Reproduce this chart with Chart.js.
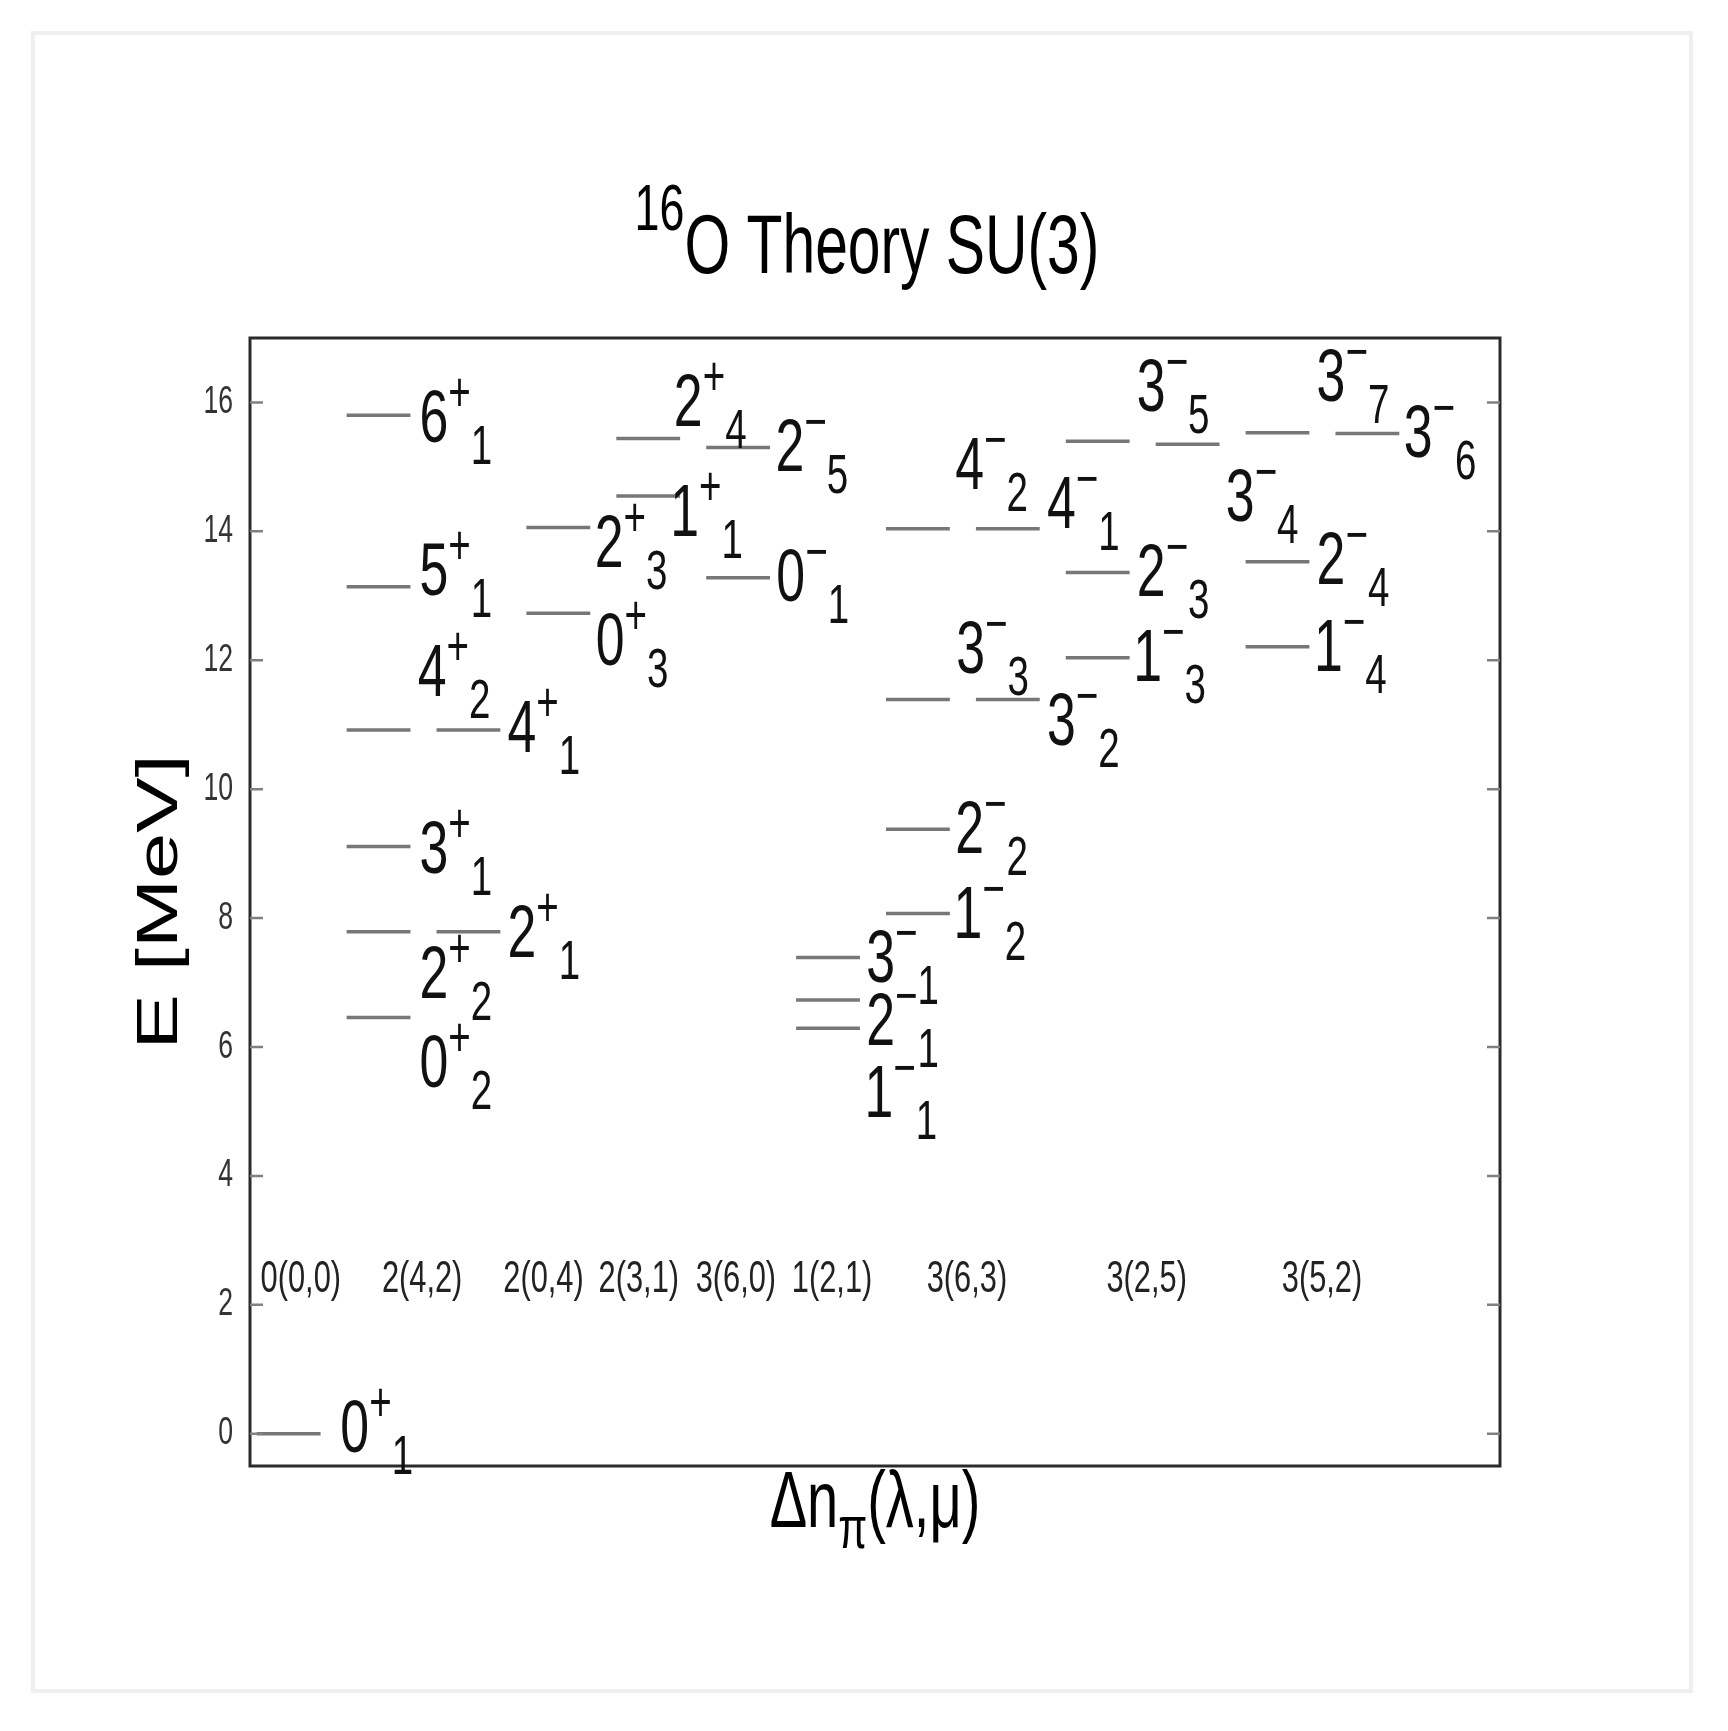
<!DOCTYPE html>
<html>
<head>
<meta charset="utf-8">
<title>16O Theory SU(3)</title>
<script src="https://cdn.jsdelivr.net/npm/chart.js"></script>
<style>
    html, body { margin: 0; padding: 0; background: #fff; overflow: hidden; }
    .card { position: absolute; left: 31px; top: 31px; width: 1654px; height: 1654px; border: 4px solid #efefef; }
    #levels { position: absolute; left: 0; top: 0; }
</style>
</head>
<body>
<div class="card"></div>
<canvas id="levels" width="1728" height="1731"></canvas>
<script>

// SU(3) irreps, Δn_π(λ,μ), and where their name sits on the x axis (slot units)
let irrepNames = ["0(0,0)", "2(4,2)", "2(0,4)", "2(3,1)", "3(6,0)", "1(2,1)", "3(6,3)", "3(2,5)", "3(5,2)"];
let irrepNameX = [0.49, 1.84, 3.19, 4.25, 5.33, 6.40, 7.90, 9.90, 11.85];
let irrepNameE = 2.2;

// levels: slot along x and energy in MeV
let levelSlot = [0, 1, 1, 1, 2, 1, 1, 2, 1, 3, 3, 4, 4, 5, 5, 6, 6, 6, 7, 8, 7, 8, 7, 7, 9, 10, 9, 9, 11, 12, 11, 11];
let levelEnergy = [0.00, 15.80, 13.14, 10.92, 10.92, 9.11, 7.79, 7.79, 6.46, 14.06, 12.73, 15.44, 14.55, 15.30, 13.28,
    7.39, 6.73, 6.29, 14.04, 14.04, 11.39, 11.39, 9.38, 8.07, 15.40, 15.35, 13.36, 12.04, 15.53, 15.52, 13.53, 12.21];

// labels J^pi_n, one per level, with their anchor (slot units, MeV)
let labelSpin = ["0", "6", "5", "4", "4", "3", "2", "2", "0", "2", "0", "2", "1", "2", "0",
    "3", "2", "1", "4", "4", "3", "3", "2", "1", "3", "3", "2", "1", "3", "3", "2", "1"];
let labelParity = ["+", "+", "+", "+", "+", "+", "+", "+", "+", "+", "+", "+", "+", "−", "−",
    "−", "−", "−", "−", "−", "−", "−", "−", "−", "−", "−", "−", "−", "−", "−", "−", "−"];
let labelIndex = ["1", "1", "1", "2", "1", "1", "2", "1", "2", "3", "3", "4", "1", "5", "1",
    "1", "1", "1", "2", "1", "3", "2", "2", "2", "5", "4", "3", "3", "7", "6", "4", "4"];
let labelX = [0.93, 1.81, 1.81, 1.79, 2.79, 1.81, 1.81, 2.79, 1.81, 3.76, 3.77, 4.64, 4.60, 5.77, 5.78,
    6.78, 6.78, 6.76, 7.77, 8.79, 7.78, 8.79, 7.77, 7.75, 9.79, 10.78, 9.79, 9.75, 11.79, 12.76, 11.79, 11.76];
let labelE = [-0.28, 15.39, 13.02, 11.45, 10.57, 8.70, 6.76, 7.40, 5.38, 13.44, 11.93, 15.64, 13.93, 14.94, 12.92,
    7.01, 6.03, 4.92, 14.66, 14.06, 11.81, 10.69, 9.01, 7.69, 15.87, 14.16, 13.00, 11.68, 16.03, 15.15, 13.18, 11.83];

let yTickValues = [0, 2, 4, 6, 8, 10, 12, 14, 16];

//styles
const FONT = "'Liberation Sans', Arial, Helvetica, sans-serif";
const SQUEEZE = 0.7;          // the original text is horizontally condensed
const LEVEL_LENGTH = 0.71;    // length of a level bar, in slot units
let levelColor = "#777777";
let frameColor = "#2b2b2b";
let tickColor = "#808080";

// draw a row of text pieces (size, vertical shift) one after the other
function drawPieces(ctx, pieces, x, y) {
    pieces.forEach(p => {
        ctx.save();
        ctx.font = p.size + "px " + FONT;
        ctx.textAlign = "left";
        ctx.textBaseline = "alphabetic";
        ctx.translate(x, y + p.dy);
        ctx.scale(SQUEEZE, 1);
        ctx.fillText(p.t, 0, 0);
        x += ctx.measureText(p.t).width * SQUEEZE;
        ctx.restore();
    });
    return x;
}

function piecesWidth(ctx, pieces) {
    let w = 0;
    pieces.forEach(p => {
        ctx.font = p.size + "px " + FONT;
        w += ctx.measureText(p.t).width * SQUEEZE;
    });
    return w;
}

let levelScheme = {
    id: "levelScheme",
    afterDatasetsDraw(chart) {
        let ctx = chart.ctx;
        let area = chart.chartArea;
        let xs = chart.scales.x;
        let ys = chart.scales.y;

        ctx.save();

        // frame
        ctx.strokeStyle = frameColor;
        ctx.lineWidth = 3;
        ctx.strokeRect(area.left, area.top, area.right - area.left, area.bottom - area.top);

        // inner ticks on both sides + labels on the left
        yTickValues.forEach(v => {
            let py = ys.getPixelForValue(v);
            ctx.strokeStyle = tickColor;
            ctx.lineWidth = 2.5;
            ctx.beginPath();
            ctx.moveTo(area.left, py);
            ctx.lineTo(area.left + 13, py);
            ctx.moveTo(area.right, py);
            ctx.lineTo(area.right - 13, py);
            ctx.stroke();

            ctx.save();
            ctx.fillStyle = "#333";
            ctx.font = "38px " + FONT;
            ctx.textAlign = "right";
            ctx.textBaseline = "middle";
            ctx.translate(area.left - 17, py);
            ctx.scale(SQUEEZE, 1);
            ctx.fillText(String(v), 0, 0);
            ctx.restore();
        });

        // level labels
        ctx.fillStyle = "#111";
        labelSpin.forEach((spin, i) => {
            let px = xs.getPixelForValue(labelX[i]);
            let py = ys.getPixelForValue(labelE[i]);
            drawPieces(ctx, [
                { t: spin, size: 74, dy: 0 },
                { t: labelParity[i], size: 55, dy: -31 },
                { t: labelIndex[i], size: 55, dy: 22 }
            ], px, py);
        });

        // irrep names
        ctx.fillStyle = "#222";
        irrepNames.forEach((name, i) => {
            let piece = [{ t: name, size: 44, dy: 0 }];
            let w = piecesWidth(ctx, piece);
            drawPieces(ctx, piece, xs.getPixelForValue(irrepNameX[i]) - w / 2, ys.getPixelForValue(irrepNameE));
        });

        let cx = (area.left + area.right) / 2;

        // title
        ctx.fillStyle = "#000";
        let title = [
            { t: "16", size: 64, dy: -43 },
            { t: "O Theory SU(3)", size: 84, dy: 0 }
        ];
        drawPieces(ctx, title, cx - 8 - piecesWidth(ctx, title) / 2, area.top - 65);

        // x title
        let xTitle = [
            { t: "Δn", size: 80, dy: 0 },
            { t: "π", size: 60, dy: 21 },
            { t: "(λ,μ)", size: 80, dy: 0 }
        ];
        drawPieces(ctx, xTitle, cx - piecesWidth(ctx, xTitle) / 2, area.bottom + 61);

        // y title
        ctx.save();
        ctx.font = "83px " + FONT;
        ctx.textAlign = "center";
        ctx.textBaseline = "alphabetic";
        ctx.translate(area.left - 73, (area.top + area.bottom) / 2);
        ctx.rotate(-Math.PI / 2);
        ctx.scale(1, SQUEEZE);
        ctx.fillText("E [MeV]", 0, 0);
        ctx.restore();

        ctx.restore();
    }
};

let datasets = levelSlot.map((slot, i) => ({
    data: [
        { x: slot, y: levelEnergy[i] },
        { x: slot + LEVEL_LENGTH, y: levelEnergy[i] }
    ],
    showLine: true,
    borderColor: levelColor,
    borderWidth: 3.5,
    pointRadius: 0,
    pointHoverRadius: 0
}));

const ctx = document.getElementById("levels");

new Chart(ctx, {
    type: "scatter",
    data: { datasets: datasets },
    options: {
        responsive: false,
        animation: false,
        devicePixelRatio: 1,
        events: [],
        layout: { padding: { left: 250, right: 228, top: 338, bottom: 265 } },
        plugins: {
            legend: { display: false },
            title: { display: false },
            tooltip: { enabled: false }
        },
        scales: {
            x: { type: "linear", min: -0.075, max: 13.83, display: false },
            y: { type: "linear", min: -0.5, max: 17, display: false }
        }
    },
    plugins: [levelScheme]
});

</script>
</body>
</html>
